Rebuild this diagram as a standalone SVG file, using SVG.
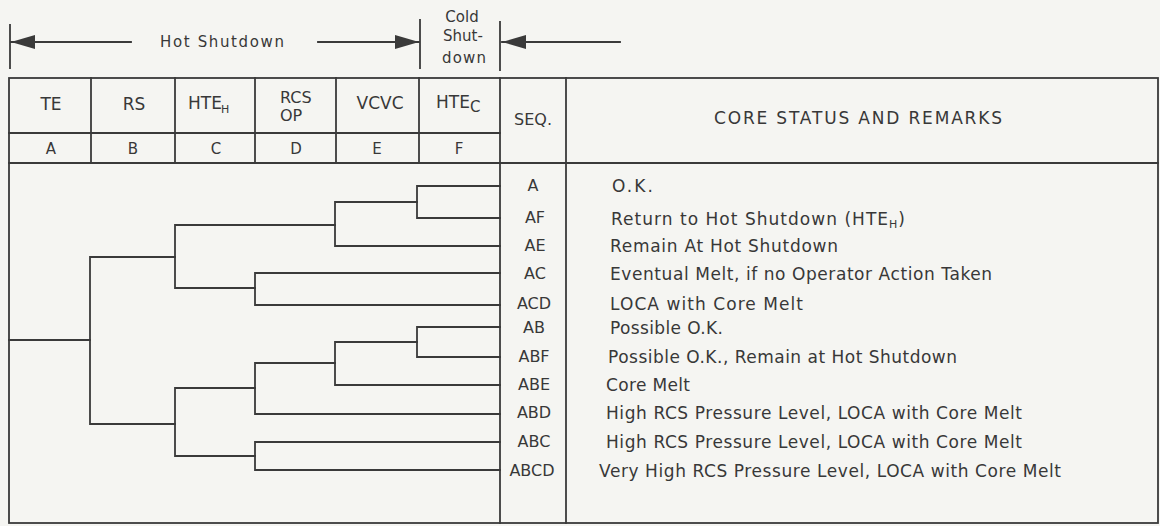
<svg xmlns="http://www.w3.org/2000/svg" width="1160" height="526" viewBox="0 0 1160 526">
<style>
  .ln{stroke:#3a3a3a;stroke-width:1.8;fill:none;stroke-linecap:square}
  .t{font-family:"DejaVu Sans","Liberation Sans",Arial,sans-serif;font-size:15px;fill:#383838}
  .c{text-anchor:middle}
  .h{font-size:17px}
  .s{font-size:16px}
  .r{font-size:17px}
  .sub{font-size:11px}
</style>
<defs>
  <marker id="ah" viewBox="0 0 24 14" refX="24" refY="7" markerWidth="24" markerHeight="14" markerUnits="userSpaceOnUse" orient="auto">
    <path d="M0,0 L24,7 L0,14 Z" fill="#3a3a3a"/>
  </marker>
</defs>
<rect x="0" y="0" width="1160" height="526" fill="#f5f5f2"/>

<g id="span-labels">
  <line class="ln" x1="10" y1="25" x2="10" y2="68"/>
  <line class="ln" x1="420" y1="20" x2="420" y2="68"/>
  <line class="ln" x1="500" y1="22" x2="500" y2="70"/>
  <line class="ln" x1="131" y1="42" x2="11" y2="42" marker-end="url(#ah)"/>
  <line class="ln" x1="318" y1="42" x2="419" y2="42" marker-end="url(#ah)"/>
  <line class="ln" x1="620" y1="42" x2="502" y2="42" marker-end="url(#ah)"/>
  <text class="t" x="160" y="47" font-size="16" textLength="124" lengthAdjust="spacing">Hot Shutdown</text>
  <text class="t c" x="462" y="22" font-size="15">Cold</text>
  <text class="t c" x="463" y="41" font-size="15">Shut-</text>
  <text class="t c" x="464" y="63" font-size="15" textLength="44" lengthAdjust="spacing">down</text>
</g>

<g id="table-grid">
  <rect class="ln" x="9" y="78" width="1149" height="445"/>
  <line class="ln" x1="9" y1="133" x2="500" y2="133"/>
  <line class="ln" x1="9" y1="163" x2="1158" y2="163"/>
  <line class="ln" x1="91" y1="78" x2="91" y2="163"/>
  <line class="ln" x1="175" y1="78" x2="175" y2="163"/>
  <line class="ln" x1="255" y1="78" x2="255" y2="163"/>
  <line class="ln" x1="336" y1="78" x2="336" y2="163"/>
  <line class="ln" x1="419" y1="78" x2="419" y2="163"/>
  <line class="ln" x1="500" y1="78" x2="500" y2="523"/>
  <line class="ln" x1="566" y1="78" x2="566" y2="523"/>
</g>

<g id="header-TE"><text class="t h c" x="51" y="110">TE</text><text class="t c" x="51" y="154">A</text></g>
<g id="header-RS"><text class="t h c" x="134" y="110">RS</text><text class="t c" x="133" y="154">B</text></g>
<g id="header-HTEH"><text class="t h" x="188" y="109">HTE</text><text class="t sub" x="221" y="113">H</text><text class="t c" x="216" y="154">C</text></g>
<g id="header-RCSOP"><text class="t s" x="280" y="103">RCS</text><text class="t s" x="280" y="121">OP</text><text class="t c" x="296" y="154">D</text></g>
<g id="header-VCVC"><text class="t h c" x="380" y="109">VCVC</text><text class="t c" x="377" y="154">E</text></g>
<g id="header-HTEC"><text class="t h" x="436" y="108">HTE</text><text class="t" x="470" y="112" font-size="13">C</text><text class="t c" x="459" y="154">F</text></g>
<g id="header-SEQ"><text class="t s c" x="533" y="125">SEQ.</text></g>
<g id="header-remarks"><text class="t h c" x="858" y="124" textLength="288" lengthAdjust="spacing">CORE STATUS AND REMARKS</text></g>

<g id="connectors">
  <polyline class="ln" points="9,340 90,340"/>
  <polyline class="ln" points="175,257 90,257 90,424 175,424"/>
  <polyline class="ln" points="335,225 175,225 175,288 255,288"/>
  <polyline class="ln" points="417,202 335,202 335,246 500,246"/>
  <polyline class="ln" points="500,186 417,186 417,218 500,218"/>
  <polyline class="ln" points="500,273 255,273 255,305 500,305"/>
  <polyline class="ln" points="255,388 175,388 175,456 255,456"/>
  <polyline class="ln" points="335,363 255,363 255,414 500,414"/>
  <polyline class="ln" points="417,342 335,342 335,385 500,385"/>
  <polyline class="ln" points="500,327 417,327 417,357 500,357"/>
  <polyline class="ln" points="500,442 255,442 255,470 500,470"/>
</g>

<g id="seq-A"><text class="t s c" x="533" y="191">A</text><text class="t r" x="612" y="192" textLength="41" lengthAdjust="spacing">O.K.</text></g>
<g id="seq-AF"><text class="t s c" x="535" y="223">AF</text><text class="t r" x="611" y="225" textLength="294" lengthAdjust="spacing">Return to Hot Shutdown (HTE<tspan font-size="11" dy="3">H</tspan><tspan dy="-3">)</tspan></text></g>
<g id="seq-AE"><text class="t s c" x="535" y="251">AE</text><text class="t r" x="610" y="252" textLength="228" lengthAdjust="spacing">Remain At Hot Shutdown</text></g>
<g id="seq-AC"><text class="t s c" x="535" y="279">AC</text><text class="t r" x="610" y="280" textLength="382" lengthAdjust="spacing">Eventual Melt, if no Operator Action Taken</text></g>
<g id="seq-ACD"><text class="t s c" x="534" y="309">ACD</text><text class="t r" x="610" y="310" textLength="193" lengthAdjust="spacing">LOCA  with Core Melt</text></g>
<g id="seq-AB"><text class="t s c" x="534" y="333">AB</text><text class="t r" x="610" y="334" textLength="113" lengthAdjust="spacing">Possible O.K.</text></g>
<g id="seq-ABF"><text class="t s c" x="534" y="362">ABF</text><text class="t r" x="608" y="363" textLength="349" lengthAdjust="spacing">Possible O.K., Remain at Hot Shutdown</text></g>
<g id="seq-ABE"><text class="t s c" x="534" y="390">ABE</text><text class="t r" x="606" y="391" textLength="84" lengthAdjust="spacing">Core Melt</text></g>
<g id="seq-ABD"><text class="t s c" x="534" y="418">ABD</text><text class="t r" x="606" y="419" textLength="416" lengthAdjust="spacing">High RCS Pressure Level, LOCA with Core Melt</text></g>
<g id="seq-ABC"><text class="t s c" x="534" y="447">ABC</text><text class="t r" x="606" y="448" textLength="416" lengthAdjust="spacing">High RCS Pressure Level, LOCA with Core Melt</text></g>
<g id="seq-ABCD"><text class="t s c" x="532" y="476">ABCD</text><text class="t r" x="599" y="477" textLength="462" lengthAdjust="spacing">Very High RCS Pressure Level, LOCA with Core Melt</text></g>
</svg>
